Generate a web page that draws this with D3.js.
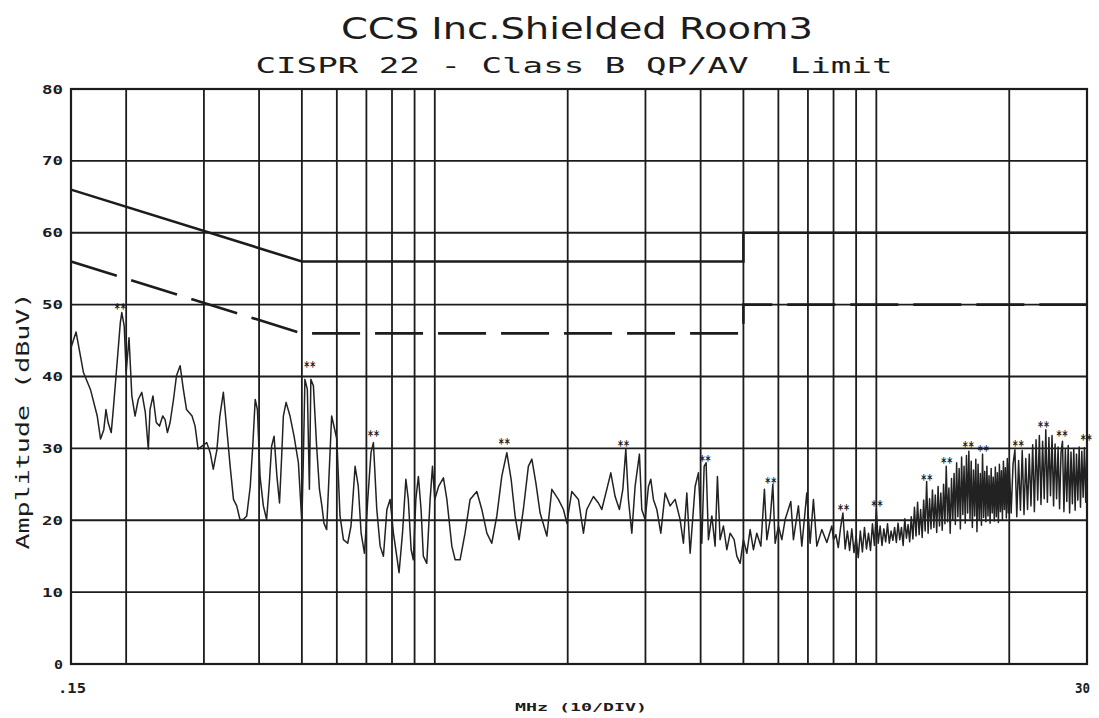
<!DOCTYPE html>
<html><head><meta charset="utf-8">
<script src="https://cdn.jsdelivr.net/npm/d3@7"></script>
<style>body{margin:0;background:#fff}svg{display:block}</style>
</head><body>
<svg id="chart" width="1099" height="718"></svg>
<script>
// ---------- data ----------
const titleText = "CCS Inc.Shielded Room3";
const subtitleText = "CISPR 22 - Class B QP/AV  Limit";
const yAxisTitle = "Amplitude (dBuV)";
const xAxisTitle = "MHz (10/DIV)";

const yTickValues = [0, 10, 20, 30, 40, 50, 60, 70, 80];
const yTickLabels = ["0", "10", "20", "30", "40", "50", "60", "70", "80"];
const xGridFreqs = [0.2, 0.3, 0.4, 0.5, 0.6, 0.7, 0.8, 0.9, 1, 2, 3, 4, 5, 6, 7, 8, 9, 10, 20];
const xEdgeFreqs = [0.15, 30];
const xEdgeLabels = [".15", "30"];

// CISPR 22 Class B limits
const qpFreq = [0.15, 0.5, 5, 5, 30];
const qpLevel = [66, 56, 56, 60, 60];
const avFreq = [0.15, 0.5, 5, 5, 30];
const avLevel = [56, 46, 46, 50, 50];

// measured trace (MHz, dBuV)
const traceFreq = [
0.150,0.154,0.160,0.166,0.172,0.175,0.178,0.180,0.182,0.185,
0.187,0.190,0.194,0.1955,0.198,0.200,0.203,0.206,0.2095,0.213,
0.217,0.221,0.2245,0.2265,0.230,0.234,0.238,0.242,0.245,0.248,
0.2515,0.256,0.260,0.265,0.2695,0.274,0.282,0.2865,0.291,0.297,
0.3045,0.310,0.315,0.321,0.326,0.332,0.338,0.344,0.350,0.356,
0.362,0.3685,0.375,0.382,0.387,0.392,0.3965,0.402,0.409,0.416,
0.422,0.427,0.4325,0.439,0.445,0.450,0.454,0.4605,0.470,0.480,
0.491,0.500,0.504,0.508,0.5145,0.520,0.524,0.531,0.540,0.548,
0.555,0.561,0.569,0.584,0.600,0.610,0.621,0.635,0.646,0.660,
0.671,0.681,0.693,0.705,0.717,0.726,0.739,0.752,0.765,0.779,
0.792,0.806,0.820,0.830,0.845,0.860,0.871,0.884,0.894,0.906,
0.918,0.931,0.942,0.959,0.976,0.988,1.00,
1.02,1.046,1.065,1.093,1.112,1.141,1.171,1.202,1.245,1.278,
1.312,1.346,1.382,1.418,1.456,1.489,1.520,1.552,1.587,1.629,
1.659,1.694,1.732,1.794,1.841,1.905,1.956,1.991,2.043,2.115,
2.171,2.209,2.287,2.347,2.389,2.452,2.504,2.561,2.619,2.666,
2.708,2.745,2.794,2.842,2.907,2.943,2.995,3.047,3.085,3.127,
3.183,3.250,3.324,3.412,3.502,3.594,3.657,3.722,3.787,3.887,
3.954,4.025,4.074,4.116,4.166,4.241,4.314,4.366,4.428,4.505,
4.586,4.665,4.764,4.831,4.915,5.000,5.090,5.178,5.268,5.362,
5.476,5.579,5.650,5.748,5.829,5.899,6.002,6.109,6.215,6.402,
6.490,6.661,6.780,6.959,7.081,7.203,7.332,7.526,7.725,7.929,
8.0,8.1,8.2,8.3,8.4,8.5,8.6,8.7,8.8,8.9,
9.0,9.1,9.2,9.3,9.4,9.5,9.6,9.7,9.8,9.9,10.0,
10.1,10.2,10.3,10.4,10.5,10.6,10.7,10.8,10.9,11.0,
11.1,11.2,11.3,11.4,11.5,11.6,11.7,11.8,11.9,12.0,
12.1,12.2,12.3,12.4,12.5,12.6,12.7,12.8,12.9,13.0,
13.1,13.2,13.3,13.4,13.5,13.6,13.7,13.8,13.9,14.0,
14.1,14.2,14.3,14.4,14.5,14.6,14.7,14.8,14.9,15.0,
15.1,15.2,15.3,15.4,15.5,15.6,15.7,15.8,15.9,16.0,
16.1,16.2,16.3,16.4,16.5,16.6,16.7,16.8,16.9,17.0,
17.1,17.2,17.3,17.4,17.5,17.6,17.7,17.8,17.9,18.0,
18.1,18.2,18.3,18.4,18.5,18.6,18.7,18.8,18.9,19.0,
19.1,19.2,19.3,19.4,19.5,19.6,19.7,19.8,19.9,20.0,
20.2,20.4,20.6,20.8,21.0,21.2,21.4,21.6,21.8,22.0,
22.2,22.4,22.6,22.8,23.0,23.2,23.4,23.6,23.8,24.0,
24.2,24.4,24.6,24.8,25.0,25.2,25.4,25.6,25.8,26.0,
26.2,26.4,26.6,26.8,27.0,27.2,27.4,27.6,27.8,28.0,
28.2,28.4,28.6,28.8,29.0,29.2,29.4,29.6,29.8,30.0
];
const traceLevel = [
44.0,46.2,40.6,38.2,34.5,31.3,32.6,35.4,33.6,32.2,
35.4,40.6,47.5,48.9,47.0,40.6,45.4,37.3,34.5,36.8,
37.8,35.0,29.9,35.4,37.3,33.6,33.1,34.5,34.0,32.2,
33.6,36.8,40.1,41.5,38.2,35.4,34.5,33.1,29.9,30.3,
30.8,29.4,27.1,29.8,34.5,37.8,32.7,27.5,22.9,22.0,
20.1,20.1,20.6,24.7,30.3,36.8,35.4,26.1,22.0,20.1,
25.2,30.3,31.7,26.1,22.4,28.9,34.5,36.4,34.5,31.7,
28.0,19.6,28.9,39.6,38.2,24.3,39.6,38.7,30.3,24.3,
22.0,19.6,18.7,34.5,31.3,20.6,17.3,16.8,19.2,27.5,
24.7,18.2,15.4,22.9,29.4,30.8,21.5,16.4,15.0,21.5,
22.9,18.2,15.0,12.7,18.2,25.7,22.9,15.9,14.5,22.9,
26.1,21.5,15.0,14.0,22.9,27.5,22.9,
24.7,25.9,22.9,16.4,14.5,14.5,18.2,22.9,24.0,21.5,
18.2,16.8,20.6,26.1,29.4,25.7,20.6,17.3,21.5,27.5,
28.5,25.2,21.0,17.8,24.3,22.9,21.5,19.6,24.0,22.9,
18.2,21.5,23.3,22.4,21.5,24.3,26.6,23.3,21.5,24.3,
29.9,22.9,18.2,24.7,29.2,21.5,20.1,24.7,25.7,22.9,
21.5,18.2,23.8,22.0,22.9,20.1,16.8,23.8,15.4,24.7,
26.6,16.8,27.5,28.0,17.3,20.6,16.4,26.1,17.3,19.2,
15.9,18.2,17.3,15.0,14.0,17.3,15.4,18.7,15.9,18.2,
16.4,24.3,17.3,20.1,25.0,16.8,19.2,17.3,20.1,22.6,
17.3,22.0,16.4,23.8,16.8,22.9,16.4,18.7,16.9,19.2,
17.3,18.0,16.2,19.0,21.0,16.0,18.5,15.8,18.8,15.5,
17.8,14.8,18.5,15.6,19.0,16.0,18.2,15.8,19.5,16.5,21.5,
16.8,19.2,16.5,18.8,17.0,19.5,16.8,18.5,17.2,19.0,
16.9,19.6,17.3,19.0,16.5,20.2,17.5,19.4,17.0,20.5,
17.4,21.8,17.8,22.5,18.0,21.5,17.6,22.8,18.5,25.4,
18.2,23.0,18.8,24.2,19.0,23.5,18.3,24.7,19.2,23.8,
18.6,25.0,19.5,27.5,19.8,24.5,18.2,25.8,20.0,26.5,
19.4,28.0,20.5,27.2,18.8,28.8,20.8,27.5,19.6,29.0,
21.0,29.6,20.2,28.2,19.0,27.0,20.6,28.5,18.4,27.8,
20.0,26.5,19.3,29.2,20.4,26.8,19.8,27.5,20.6,26.2,
19.6,27.2,21.0,26.0,19.9,27.4,20.5,26.6,19.7,27.8,
21.2,26.9,20.1,28.2,21.5,27.3,20.3,28.6,21.0,27.9,
21.0,27.8,29.8,20.5,28.3,21.4,29.7,20.8,28.6,21.5,
29.2,22.0,30.5,21.2,31.2,22.8,31.8,22.2,31.0,23.0,
32.6,22.5,31.5,23.4,31.8,22.0,30.6,23.0,30.2,21.6,
29.4,31.0,21.2,29.8,22.6,30.4,21.0,29.5,22.3,30.0,
21.4,29.2,22.8,30.2,21.8,29.6,23.2,30.1,22.5,30.8
];

// peak markers "**" (MHz, dBuV)
const markerFreq = [0.194, 0.521, 0.726, 1.436, 2.674, 4.095, 5.768, 8.427, 10.03, 13.01, 14.44, 16.14, 17.46, 20.95, 23.90, 26.32, 29.9];
const markerLevel = [49.9, 41.9, 32.3, 31.2, 30.9, 28.8, 25.7, 22.0, 22.6, 26.2, 28.5, 30.7, 30.2, 30.9, 33.5, 32.3, 31.7];

// ---------- drawing ----------
const svg = d3.select("#chart");
const L = 71, R = 1087, T = 89, B = 664;
const x = d3.scaleLog().domain([0.15, 30]).range([L, R]);
const y = d3.scaleLinear().domain([0, 80]).range([B, T]);
const ink = "#1c1c1c";
const mono = "'DejaVu Sans Mono', monospace";

// titles
svg.append("text").attr("x", 577).attr("y", 39).attr("text-anchor", "middle")
  .attr("font-family", "'DejaVu Sans', sans-serif").attr("font-size", 30)
  .attr("textLength", 472).attr("lengthAdjust", "spacingAndGlyphs")
  .attr("fill", ink).text(titleText);
svg.append("text").attr("x", 574).attr("y", 73).attr("text-anchor", "middle")
  .attr("font-family", mono).attr("font-size", 22)
  .attr("textLength", 637).attr("lengthAdjust", "spacingAndGlyphs")
  .style("white-space", "pre").attr("fill", ink).text(subtitleText);

// grid
const g = svg.append("g");
g.selectAll("line.h").data(yTickValues.filter(v => v > 0 && v < 80)).join("line")
  .attr("x1", L).attr("x2", R).attr("y1", d => y(d)).attr("y2", d => y(d))
  .attr("stroke", ink).attr("stroke-width", 1.8);
g.selectAll("line.v").data(xGridFreqs).join("line")
  .attr("x1", d => x(d)).attr("x2", d => x(d)).attr("y1", T).attr("y2", B)
  .attr("stroke", ink).attr("stroke-width", 1.8);
g.append("rect").attr("x", L).attr("y", T).attr("width", R - L).attr("height", B - T)
  .attr("fill", "none").attr("stroke", ink).attr("stroke-width", 2.2);

// y tick labels
svg.selectAll("text.yt").data(yTickValues).join("text")
  .attr("x", 63).attr("y", d => y(d) + 4.5).attr("text-anchor", "end")
  .attr("font-family", mono).attr("font-weight", "bold").attr("font-size", 12)
  .attr("textLength", (d, i) => yTickLabels[i].length > 1 ? 21 : 9)
  .attr("lengthAdjust", "spacingAndGlyphs")
  .attr("fill", ink).text((d, i) => yTickLabels[i]);

// x edge labels
svg.selectAll("text.xt").data(xEdgeFreqs).join("text")
  .attr("x", (d, i) => i === 0 ? x(d) + 1 : x(d) + 3)
  .attr("y", 693).attr("text-anchor", (d, i) => i === 0 ? "middle" : "end")
  .attr("font-family", mono).attr("font-weight", "bold").attr("font-size", 14)
  .attr("textLength", (d, i) => i === 0 ? 28 : 15).attr("lengthAdjust", "spacingAndGlyphs")
  .attr("fill", ink).text((d, i) => xEdgeLabels[i]);

// axis titles
svg.append("text").attr("x", 581).attr("y", 711).attr("text-anchor", "middle")
  .attr("font-family", mono).attr("font-weight", "bold").attr("font-size", 11)
  .attr("textLength", 132).attr("lengthAdjust", "spacingAndGlyphs")
  .attr("fill", ink).text(xAxisTitle);
svg.append("text").attr("transform", "translate(29,421) rotate(-90)")
  .attr("text-anchor", "middle")
  .attr("font-family", mono).attr("font-size", 18)
  .attr("textLength", 257).attr("lengthAdjust", "spacingAndGlyphs")
  .attr("fill", ink).text(yAxisTitle);

// limit lines
const lineGen = d3.line().x(d => x(d[0])).y(d => y(d[1]));
svg.append("path").datum(qpFreq.map((f, i) => [f, qpLevel[i]]))
  .attr("d", lineGen).attr("fill", "none").attr("stroke", ink).attr("stroke-width", 2.6);
svg.append("path").datum(avFreq.map((f, i) => [f, avLevel[i]]))
  .attr("d", lineGen).attr("fill", "none").attr("stroke", ink).attr("stroke-width", 2.6)
  .attr("stroke-dasharray", "48,15");

// trace
svg.append("path").datum(traceFreq.map((f, i) => [f, traceLevel[i]]))
  .attr("d", lineGen).attr("fill", "none").attr("stroke", "#222")
  .attr("stroke-width", 1.5).attr("stroke-linejoin", "round");

// markers
svg.selectAll("text.mk").data(markerFreq).join("text")
  .attr("x", d => x(d)).attr("y", (d, i) => y(markerLevel[i]) + 8)
  .attr("text-anchor", "middle").attr("font-family", mono).attr("font-weight", "bold")
  .attr("font-size", 14).attr("textLength", 12).attr("lengthAdjust", "spacingAndGlyphs")
  .attr("fill", ink).text("**");
</script>
</body></html>
